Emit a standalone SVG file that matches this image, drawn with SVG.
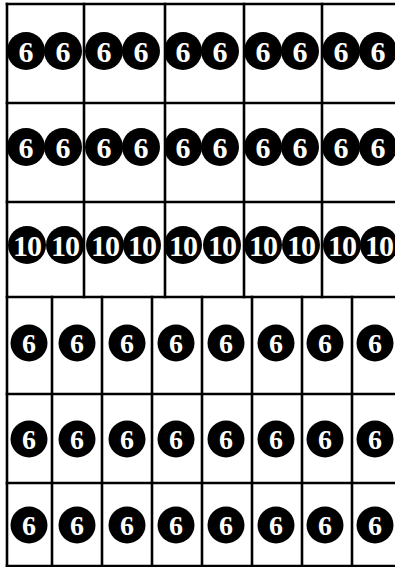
<svg xmlns="http://www.w3.org/2000/svg" width="395" height="567" viewBox="0 0 395 567">
<style>
.grid line{stroke:#000;stroke-width:2.6;stroke-linecap:square}
circle{fill:#000}
</style>
<rect width="395" height="567" fill="#fff"/>
<g id="grid" class="grid">
<line x1="7" y1="4" x2="395" y2="4"/>
<line x1="7" y1="103" x2="395" y2="103"/>
<line x1="7" y1="202" x2="395" y2="202"/>
<line x1="7" y1="297" x2="395" y2="297"/>
<line x1="7" y1="394" x2="395" y2="394"/>
<line x1="7" y1="483" x2="395" y2="483"/>
<line x1="7" y1="566" x2="395" y2="566"/>
<line x1="7" y1="4" x2="7" y2="566"/>
<line x1="84" y1="4" x2="84" y2="297"/>
<line x1="165" y1="4" x2="165" y2="297"/>
<line x1="244" y1="4" x2="244" y2="297"/>
<line x1="322" y1="4" x2="322" y2="297"/>
<line x1="52" y1="297" x2="52" y2="566"/>
<line x1="102" y1="297" x2="102" y2="566"/>
<line x1="152" y1="297" x2="152" y2="566"/>
<line x1="202" y1="297" x2="202" y2="566"/>
<line x1="252" y1="297" x2="252" y2="566"/>
<line x1="302" y1="297" x2="302" y2="566"/>
<line x1="352" y1="297" x2="352" y2="566"/>
</g>
<g id="top6" font-family="Liberation Serif, Times New Roman, serif" font-weight="700" font-size="30" fill="#fff" text-anchor="middle">
<g id="row1">
<g id="r1c1"><circle cx="26" cy="51" r="19"/><text x="26" y="61.5">6</text><circle cx="63" cy="51" r="19"/><text x="63" y="61.5">6</text></g>
<g id="r1c2"><circle cx="104" cy="51" r="19"/><text x="104" y="61.5">6</text><circle cx="141" cy="51" r="19"/><text x="141" y="61.5">6</text></g>
<g id="r1c3"><circle cx="183" cy="51" r="19"/><text x="183" y="61.5">6</text><circle cx="220" cy="51" r="19"/><text x="220" y="61.5">6</text></g>
<g id="r1c4"><circle cx="263" cy="51" r="19"/><text x="263" y="61.5">6</text><circle cx="300" cy="51" r="19"/><text x="300" y="61.5">6</text></g>
<g id="r1c5"><circle cx="341" cy="51" r="19"/><text x="341" y="61.5">6</text><circle cx="378" cy="51" r="19"/><text x="378" y="61.5">6</text></g>
</g>
<g id="row2">
<g id="r2c1"><circle cx="26" cy="147" r="19"/><text x="26" y="157.5">6</text><circle cx="63" cy="147" r="19"/><text x="63" y="157.5">6</text></g>
<g id="r2c2"><circle cx="104" cy="147" r="19"/><text x="104" y="157.5">6</text><circle cx="141" cy="147" r="19"/><text x="141" y="157.5">6</text></g>
<g id="r2c3"><circle cx="183" cy="147" r="19"/><text x="183" y="157.5">6</text><circle cx="220" cy="147" r="19"/><text x="220" y="157.5">6</text></g>
<g id="r2c4"><circle cx="263" cy="147" r="19"/><text x="263" y="157.5">6</text><circle cx="300" cy="147" r="19"/><text x="300" y="157.5">6</text></g>
<g id="r2c5"><circle cx="341" cy="147" r="19"/><text x="341" y="157.5">6</text><circle cx="378" cy="147" r="19"/><text x="378" y="157.5">6</text></g>
</g>
</g>
<g id="row3" font-family="Liberation Serif, Times New Roman, serif" font-weight="700" font-size="30" fill="#fff" text-anchor="middle" letter-spacing="-1">
<g id="r3c1"><circle cx="27" cy="245" r="19"/><text x="27" y="256">10</text><circle cx="65" cy="245" r="19"/><text x="65" y="256">10</text></g>
<g id="r3c2"><circle cx="105" cy="245" r="19"/><text x="105" y="256">10</text><circle cx="142" cy="245" r="19"/><text x="142" y="256">10</text></g>
<g id="r3c3"><circle cx="183" cy="245" r="19"/><text x="183" y="256">10</text><circle cx="222" cy="245" r="19"/><text x="222" y="256">10</text></g>
<g id="r3c4"><circle cx="263" cy="245" r="19"/><text x="263" y="256">10</text><circle cx="301" cy="245" r="19"/><text x="301" y="256">10</text></g>
<g id="r3c5"><circle cx="342" cy="245" r="19"/><text x="342" y="256">10</text><circle cx="379" cy="245" r="19"/><text x="379" y="256">10</text></g>
</g>
<g id="bottom6" font-family="Liberation Serif, Times New Roman, serif" font-weight="700" font-size="28" fill="#fff" text-anchor="middle">
<g id="row4">
<g id="r4c1"><circle cx="29" cy="343" r="18.5"/><text x="29" y="353">6</text></g>
<g id="r4c2"><circle cx="77" cy="343" r="18.5"/><text x="77" y="353">6</text></g>
<g id="r4c3"><circle cx="127" cy="343" r="18.5"/><text x="127" y="353">6</text></g>
<g id="r4c4"><circle cx="176" cy="343" r="18.5"/><text x="176" y="353">6</text></g>
<g id="r4c5"><circle cx="226" cy="343" r="18.5"/><text x="226" y="353">6</text></g>
<g id="r4c6"><circle cx="276" cy="343" r="18.5"/><text x="276" y="353">6</text></g>
<g id="r4c7"><circle cx="325" cy="343" r="18.5"/><text x="325" y="353">6</text></g>
<g id="r4c8"><circle cx="375" cy="343" r="18.5"/><text x="375" y="353">6</text></g>
</g>
<g id="row5">
<g id="r5c1"><circle cx="29" cy="439" r="18.5"/><text x="29" y="449">6</text></g>
<g id="r5c2"><circle cx="77" cy="439" r="18.5"/><text x="77" y="449">6</text></g>
<g id="r5c3"><circle cx="127" cy="439" r="18.5"/><text x="127" y="449">6</text></g>
<g id="r5c4"><circle cx="176" cy="439" r="18.5"/><text x="176" y="449">6</text></g>
<g id="r5c5"><circle cx="226" cy="439" r="18.5"/><text x="226" y="449">6</text></g>
<g id="r5c6"><circle cx="276" cy="439" r="18.5"/><text x="276" y="449">6</text></g>
<g id="r5c7"><circle cx="325" cy="439" r="18.5"/><text x="325" y="449">6</text></g>
<g id="r5c8"><circle cx="375" cy="439" r="18.5"/><text x="375" y="449">6</text></g>
</g>
<g id="row6">
<g id="r6c1"><circle cx="29" cy="525" r="18.5"/><text x="29" y="535">6</text></g>
<g id="r6c2"><circle cx="77" cy="525" r="18.5"/><text x="77" y="535">6</text></g>
<g id="r6c3"><circle cx="127" cy="525" r="18.5"/><text x="127" y="535">6</text></g>
<g id="r6c4"><circle cx="176" cy="525" r="18.5"/><text x="176" y="535">6</text></g>
<g id="r6c5"><circle cx="226" cy="525" r="18.5"/><text x="226" y="535">6</text></g>
<g id="r6c6"><circle cx="276" cy="525" r="18.5"/><text x="276" y="535">6</text></g>
<g id="r6c7"><circle cx="325" cy="525" r="18.5"/><text x="325" y="535">6</text></g>
<g id="r6c8"><circle cx="375" cy="525" r="18.5"/><text x="375" y="535">6</text></g>
</g>
</g>
</svg>
